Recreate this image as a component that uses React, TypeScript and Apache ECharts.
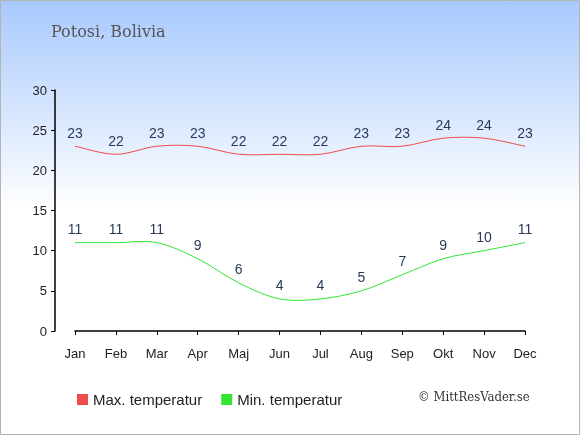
import React, { useEffect, useRef } from "react";
import * as echarts from "echarts";

const months = ["Jan", "Feb", "Mar", "Apr", "Maj", "Jun", "Jul", "Aug", "Sep", "Okt", "Nov", "Dec"];
const maxTemp = [23, 22, 23, 23, 22, 22, 22, 23, 23, 24, 24, 23];
const minTemp = [11, 11, 11, 9, 6, 4, 4, 5, 7, 9, 10, 11];
const title = "Potosi, Bolivia";
const maxName = "Max. temperatur";
const minName = "Min. temperatur";
const copyright = "© MittResVader.se";

const RED = "#f04a4a";
const GREEN = "#33e633";

function splineSeries(values: number[], color: string) {
  return {
    type: "custom",
    silent: true,
    data: values.slice(0, values.length - 1).map((v, i) => [i, v]),
    renderItem: (params: any, api: any) => {
      const i = params.dataIndex;
      const n = values.length;
      const pt = (k: number) => {
        const kk = Math.max(0, Math.min(n - 1, k));
        return api.coord([kk, values[kk]]);
      };
      const p0 = pt(i - 1);
      const p1 = pt(i);
      const p2 = pt(i + 1);
      const p3 = pt(i + 2);
      const c1 = [p1[0] + (p2[0] - p0[0]) / 6, p1[1] + (p2[1] - p0[1]) / 6];
      const c2 = [p2[0] - (p3[0] - p1[0]) / 6, p2[1] - (p3[1] - p1[1]) / 6];
      return {
        type: "bezierCurve",
        shape: {
          x1: p1[0], y1: p1[1],
          cpx1: c1[0], cpy1: c1[1],
          cpx2: c2[0], cpy2: c2[1],
          x2: p2[0], y2: p2[1],
        },
        style: { stroke: color, lineWidth: 1, fill: "none" },
      };
    },
  };
}

export default function App() {
  const ref = useRef<HTMLDivElement>(null);
  useEffect(() => {
    if (!ref.current) return;
    const chart = echarts.init(ref.current, undefined, { renderer: "svg" });
    const labelStyle = {
      show: true,
      position: "top",
      distance: 6,
      color: "#2a3a5c",
      fontSize: 14,
      fontFamily: "Liberation Sans, Arial, sans-serif",
    };
    chart.setOption({
      animation: false,
      graphic: [
        {
          type: "rect",
          z: -10,
          silent: true,
          shape: { x: 0.5, y: 0.5, width: 579, height: 434 },
          style: {
            fill: new echarts.graphic.LinearGradient(0, 0, 0, 1, [
              { offset: 0, color: "#a8c9fd" },
              { offset: 0.48, color: "#ffffff" },
              { offset: 1, color: "#ffffff" },
            ]),
            stroke: "#b4b4b4",
            lineWidth: 1,
          },
        },
        {
          type: "text",
          left: 51,
          top: 23,
          style: {
            text: title,
            font: "16px 'DejaVu Serif', serif",
            fill: "#555555",
          },
        },
        {
          type: "text",
          left: 418,
          top: 390,
          style: {
            text: copyright,
            font: "13px 'DejaVu Serif Condensed', 'DejaVu Serif', serif",
            fill: "#333333",
          },
        },
      ],
      legend: {
        left: 77,
        top: 392,
        padding: 0,
        icon: "rect",
        itemWidth: 11,
        itemHeight: 11,
        itemGap: 19,
        textStyle: {
          fontSize: 15,
          color: "#222222",
          fontFamily: "Liberation Sans, Arial, sans-serif",
        },
        data: [
          { name: maxName, itemStyle: { color: RED } },
          { name: minName, itemStyle: { color: GREEN } },
        ],
      },
      grid: { left: 75, right: 55, top: 90, bottom: 104 },
      xAxis: {
        type: "category",
        data: months,
        boundaryGap: false,
        offset: 10,
        axisLine: { show: true, lineStyle: { color: "#000", width: 1.5 } },
        axisTick: { show: true, alignWithLabel: true, length: 4, lineStyle: { color: "#000" } },
        axisLabel: {
          margin: 6,
          color: "#222",
          fontSize: 13,
          fontFamily: "Liberation Sans, Arial, sans-serif",
        },
        splitLine: { show: false },
      },
      yAxis: {
        type: "value",
        min: 0,
        max: 30,
        interval: 5,
        offset: 20,
        axisLine: { show: true, lineStyle: { color: "#000", width: 1.5 } },
        axisTick: { show: true, length: 4, lineStyle: { color: "#000" } },
        axisLabel: {
          margin: 8,
          color: "#222",
          fontSize: 13,
          fontFamily: "Liberation Sans, Arial, sans-serif",
        },
        splitLine: { show: false },
      },
      series: [
        {
          name: maxName,
          type: "line",
          data: maxTemp,
          symbol: "circle",
          symbolSize: 1,
          showSymbol: true,
          color: RED,
          itemStyle: { color: "transparent" },
          lineStyle: { width: 0, opacity: 0 },
          label: labelStyle,
        },
        {
          name: minName,
          type: "line",
          data: minTemp,
          symbol: "circle",
          symbolSize: 1,
          showSymbol: true,
          color: GREEN,
          itemStyle: { color: "transparent" },
          lineStyle: { width: 0, opacity: 0 },
          label: labelStyle,
        },
        splineSeries(maxTemp, RED),
        splineSeries(minTemp, GREEN),
      ],
    });
    return () => chart.dispose();
  }, []);
  return <div ref={ref} style={{ position: "fixed", left: 0, top: 0, width: 580, height: 435 }} />;
}
